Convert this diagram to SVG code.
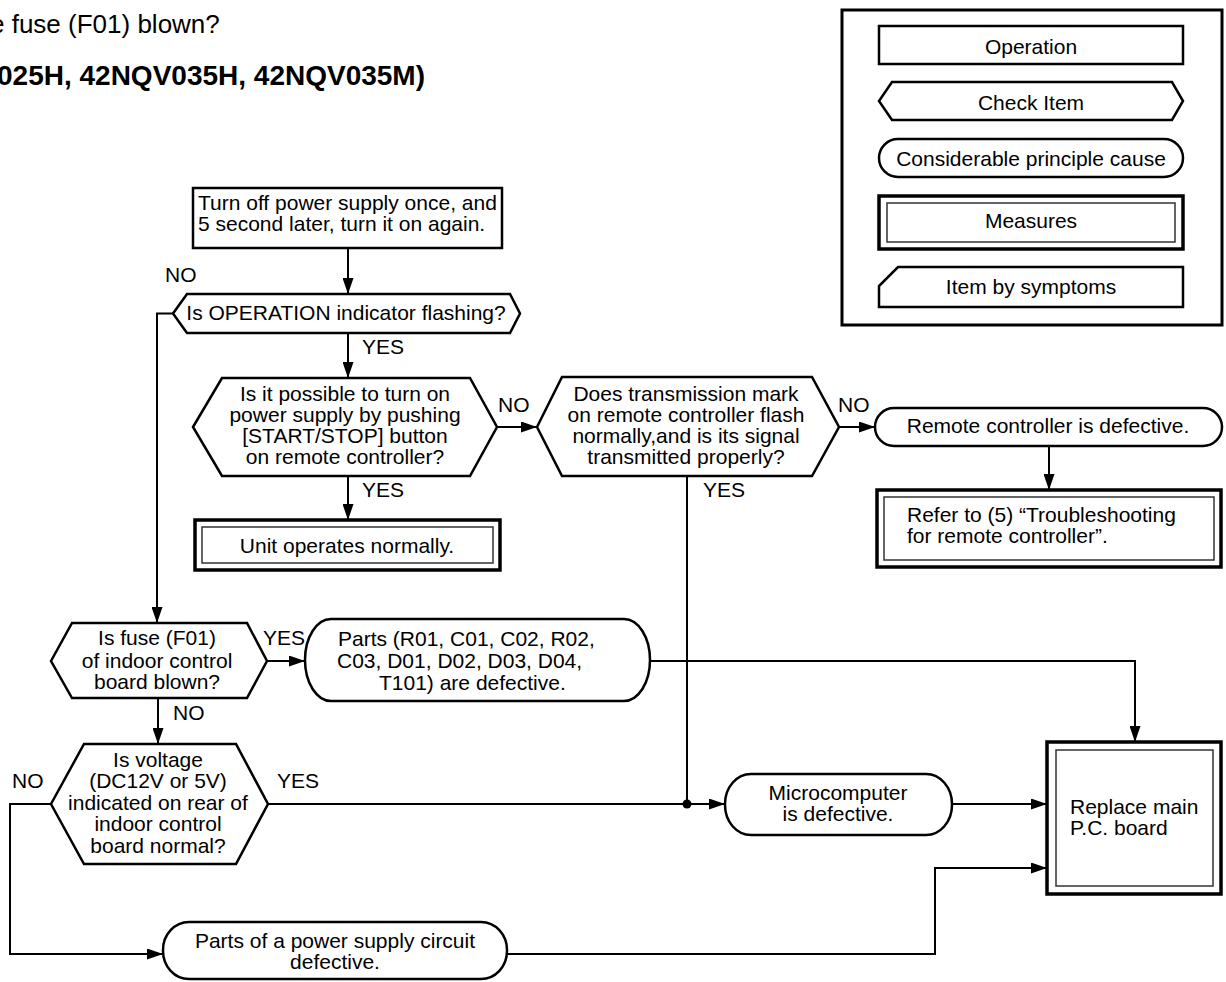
<svg xmlns="http://www.w3.org/2000/svg" width="1226" height="982" viewBox="0 0 1226 982">
  <defs>
    <style>
      .t { font-family: "Liberation Sans", Arial, sans-serif; font-size: 21px; fill: #000; }
      .c { text-anchor: middle; }
      .shape { fill: #fff; stroke: #000; stroke-width: 2.5; }
      .outer { fill: #fff; stroke: #000; stroke-width: 3.5; }
      .inner { fill: none; stroke: #333; stroke-width: 1.5; }
      .ln { fill: none; stroke: #000; stroke-width: 2; }
      .arr { marker-end: url(#ah); }
    </style>
    <marker id="ah" markerWidth="16" markerHeight="11" refX="16" refY="5.5" orient="auto" markerUnits="userSpaceOnUse">
      <path d="M0,0 L16,5.5 L0,11 z" fill="#000"/>
    </marker>
  </defs>
  <rect width="1226" height="982" fill="#fff"/>

  <!-- heading (runs off the left edge of the page) -->
  <g id="heading">
    <text class="t" x="-10" y="33" style="font-size:26px">e fuse (F01) blown?</text>
    <text class="t" x="-3" y="85" style="font-size:28px;font-weight:bold">025H, 42NQV035H, 42NQV035M)</text>
  </g>

  <!-- legend of symbols -->
  <g id="legend">
    <rect x="842" y="10" width="380" height="315" fill="#fff" stroke="#000" stroke-width="3"/>
    <rect class="shape" x="879" y="26" width="304" height="38"/>
    <text class="t c" x="1031" y="54">Operation</text>
    <polygon class="shape" points="892,82 1172,82 1183,101 1172,120 892,120 879,101"/>
    <text class="t c" x="1031" y="110">Check Item</text>
    <rect class="shape" x="879" y="139" width="304" height="38" rx="19" ry="19"/>
    <text class="t c" x="1031" y="166">Considerable principle cause</text>
    <rect class="outer" x="879" y="196" width="304" height="53"/>
    <rect class="inner" x="887" y="203" width="288" height="39"/>
    <text class="t c" x="1031" y="228">Measures</text>
    <polygon class="shape" points="898,267 1183,267 1183,307 879,307 879,286"/>
    <text class="t c" x="1031" y="294">Item by symptoms</text>
  </g>

  <!-- connectors -->
  <g id="connectors">
    <path class="ln arr" d="M348,248 V294"/>
    <path class="ln arr" d="M173,313.5 H157 V623"/>
    <path class="ln arr" d="M348,333 V378"/>
    <path class="ln arr" d="M348,476 V520"/>
    <path class="ln arr" d="M497,427 H537"/>
    <path class="ln arr" d="M839,427 H875"/>
    <path class="ln arr" d="M1049,446 V490"/>
    <path class="ln" d="M687,476 V804"/>
    <circle cx="687" cy="804" r="4.5" fill="#000"/>
    <path class="ln arr" d="M268,804 H725"/>
    <path class="ln arr" d="M267,661 H305"/>
    <path class="ln arr" d="M650,661 H1135 V742"/>
    <path class="ln arr" d="M952,804 H1047"/>
    <path class="ln arr" d="M158,698 V744"/>
    <path class="ln arr" d="M51,804 H10 V954 H163"/>
    <path class="ln arr" d="M507,954 H935 V868 H1047"/>
  </g>

  <!-- branch labels -->
  <g id="labels">
    <text class="t" x="165" y="282">NO</text>
    <text class="t" x="362" y="354">YES</text>
    <text class="t" x="498" y="412">NO</text>
    <text class="t" x="838" y="412">NO</text>
    <text class="t" x="362" y="497">YES</text>
    <text class="t" x="703" y="497">YES</text>
    <text class="t" x="263" y="645">YES</text>
    <text class="t" x="173" y="720">NO</text>
    <text class="t" x="12" y="788">NO</text>
    <text class="t" x="277" y="788">YES</text>
  </g>

  <g id="restart">
    <rect class="shape" x="193" y="188" width="309" height="60"/>
    <text class="t" x="198" y="210">Turn off power supply once, and</text>
    <text class="t" x="198" y="231">5 second later, turn it on again.</text>
  </g>

  <g id="check-indicator">
    <polygon class="shape" points="173,313.5 187,294 510,294 520,313.5 510,333 187,333"/>
    <text class="t c" x="346" y="320">Is OPERATION indicator flashing?</text>
  </g>

  <g id="check-start-stop">
    <polygon class="shape" points="193,427 222,378 470,378 497,427 470,476 222,476"/>
    <text class="t c" x="345" y="401">Is it possible to turn on</text>
    <text class="t c" x="345" y="422">power supply by pushing</text>
    <text class="t c" x="345" y="443">[START/STOP] button</text>
    <text class="t c" x="345" y="464">on remote controller?</text>
  </g>

  <g id="check-transmission">
    <polygon class="shape" points="537,427 562,377 812,377 839,427 812,476 562,476"/>
    <text class="t c" x="686" y="401">Does transmission mark</text>
    <text class="t c" x="686" y="422">on remote controller flash</text>
    <text class="t c" x="686" y="443">normally,and is its signal</text>
    <text class="t c" x="686" y="464">transmitted properly?</text>
  </g>

  <g id="remote-defective">
    <rect class="shape" x="875" y="408" width="347" height="38" rx="19" ry="19"/>
    <text class="t c" x="1048" y="433">Remote controller is defective.</text>
  </g>

  <g id="refer-remote">
    <rect class="outer" x="877" y="490" width="344" height="77"/>
    <rect class="inner" x="884" y="497" width="330" height="63"/>
    <text class="t" x="907" y="522">Refer to (5) “Troubleshooting</text>
    <text class="t" x="907" y="543">for remote controller”.</text>
  </g>

  <g id="unit-normal">
    <rect class="outer" x="195" y="520" width="305" height="50"/>
    <rect class="inner" x="202" y="527" width="291" height="36"/>
    <text class="t c" x="347" y="553">Unit operates normally.</text>
  </g>

  <g id="check-fuse">
    <polygon class="shape" points="51,661 72,623 247,623 267,661 247,698 72,698"/>
    <text class="t c" x="157" y="645">Is fuse (F01)</text>
    <text class="t c" x="157" y="668">of indoor control</text>
    <text class="t c" x="157" y="689">board blown?</text>
  </g>

  <g id="parts-defective">
    <rect class="shape" x="305" y="619" width="345" height="82" rx="26" ry="41"/>
    <text class="t" x="338" y="646">Parts (R01, C01, C02, R02,</text>
    <text class="t" x="337" y="668">C03, D01, D02, D03, D04,</text>
    <text class="t" x="379" y="690">T101) are defective.</text>
  </g>

  <g id="check-voltage">
    <polygon class="shape" points="51,804 84,744 236,744 268,804 236,864 84,864"/>
    <text class="t c" x="158" y="767">Is voltage</text>
    <text class="t c" x="158" y="788">(DC12V or 5V)</text>
    <text class="t c" x="158" y="810">indicated on rear of</text>
    <text class="t c" x="158" y="831">indoor control</text>
    <text class="t c" x="158" y="853">board normal?</text>
  </g>

  <g id="micro-defective">
    <rect class="shape" x="725" y="774" width="227" height="61" rx="26" ry="30"/>
    <text class="t c" x="838" y="800">Microcomputer</text>
    <text class="t c" x="838" y="821">is defective.</text>
  </g>

  <g id="replace-board">
    <rect class="outer" x="1047" y="742" width="174" height="152"/>
    <rect class="inner" x="1056" y="750" width="157" height="136"/>
    <text class="t" x="1070" y="814">Replace main</text>
    <text class="t" x="1070" y="835">P.C. board</text>
  </g>

  <g id="supply-defective">
    <rect class="shape" x="163" y="922" width="344" height="57" rx="26" ry="28"/>
    <text class="t c" x="335" y="948">Parts of a power supply circuit</text>
    <text class="t c" x="335" y="969">defective.</text>
  </g>
</svg>
